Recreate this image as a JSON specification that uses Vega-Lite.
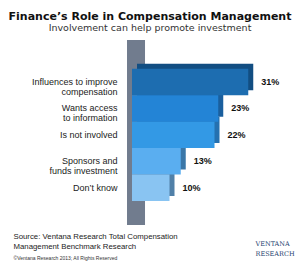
{
  "$schema": "https://vega.github.io/schema/vega-lite/v6.json",
  "width": 150,
  "height": 185,
  "autosize": {"type": "none"},
  "padding": {"left": 132, "top": 40, "right": 18, "bottom": 39},
  "background": "white",
  "title": {
    "text": "Finance’s Role in Compensation Management",
    "subtitle": "Involvement can help promote investment",
    "anchor": "middle",
    "frame": "group",
    "dx": -57,
    "offset": -1,
    "font": "DejaVu Sans",
    "fontSize": 11,
    "fontWeight": "bold",
    "color": "#111111",
    "subtitleFont": "DejaVu Sans",
    "subtitleFontSize": 9.5,
    "subtitleColor": "#333333",
    "subtitlePadding": 1
  },
  "data": {
    "values": [
      {"label": "Influences to improve|compensation", "value": 0.31},
      {"label": "Wants access|to information", "value": 0.23},
      {"label": "Is not involved", "value": 0.22},
      {"label": "Sponsors and|funds investment", "value": 0.13},
      {"label": "Don’t know", "value": 0.10}
    ]
  },
  "layer": [
    {
      "data": {"values": [{}]},
      "mark": {"type": "rule", "color": "#717c8e", "strokeWidth": 18, "clip": false},
      "encoding": {
        "x": {"datum": 0.0107, "type": "quantitative", "scale": {"domain": [0, 0.4], "nice": false}, "axis": null}
      }
    },
    {
      "mark": {"type": "bar", "xOffset": 5, "yOffset": -5, "clip": false},
      "encoding": {
        "y": {"field": "label", "type": "nominal", "sort": null,
              "scale": {"paddingInner": 0, "paddingOuter": 1.06, "align": 0.545},
              "axis": {
                "labelExpr": "split(datum.label, '|')",
                "labelFont": "Liberation Sans", "labelFontSize": 9, "labelColor": "#222222",
                "labelLineHeight": 10, "labelPadding": 15, "ticks": false, "domain": false,
                "title": "©Ventana Research 2013; All Rights Reserved",
                "titleAngle": 0, "titleX": -119, "titleY": 219, "titleAlign": "left",
                "titleBaseline": "alphabetic", "titleFont": "Liberation Sans",
                "titleFontSize": 5, "titleFontWeight": "normal", "titleColor": "#333333"
              }},
        "x": {"field": "value", "type": "quantitative", "axis": null},
        "color": {"field": "label", "type": "nominal", "sort": null, "legend": null,
                  "scale": {"range": ["#124e82", "#1a5f9e", "#2571b0", "#3a77a8", "#5080a8"]}}
      }
    },
    {
      "mark": {"type": "bar", "clip": false},
      "encoding": {
        "y": {"field": "label", "type": "nominal", "sort": null},
        "x": {"field": "value", "type": "quantitative",
              "axis": {
                "orient": "bottom",
                "domain": false, "ticks": false, "labels": false, "grid": false,
                "title": ["Source: Ventana Research Total Compensation", "Management Benchmark Research"],
                "titleX": -119, "titleY": 13, "titleAlign": "left", "titleAnchor": null,
                "titleBaseline": "alphabetic", "titleFont": "Liberation Sans",
                "titleFontSize": 7.8, "titleFontWeight": "normal", "titleColor": "#222222",
                "titleLineHeight": 10
              }},
        "color": {"field": "label", "type": "nominal", "sort": null, "legend": null,
                  "scale": {"range": ["#1d6db0", "#2384d6", "#3399e5", "#5aaef0", "#89c4f2"]}}
      }
    },
    {
      "mark": {"type": "text", "align": "left", "baseline": "middle", "dx": 13,
               "font": "Liberation Sans", "fontSize": 9, "fontWeight": "bold", "color": "#111111", "clip": false},
      "encoding": {
        "y": {"field": "label", "type": "nominal", "sort": null},
        "x": {"field": "value", "type": "quantitative",
              "axis": {
                "orient": "top", "domain": false, "ticks": false, "labels": false, "grid": false,
                "title": ["VENTANA", "RESEARCH"],
                "titleX": 123, "titleY": 205, "titleAlign": "left", "titleAnchor": null,
                "titleBaseline": "alphabetic", "titleFont": "DejaVu Serif",
                "titleFontSize": 6.5, "titleFontWeight": "normal", "titleColor": "#24416f",
                "titleLineHeight": 10
              }},
        "text": {"field": "value", "type": "quantitative", "format": ".0%"}
      }
    }
  ],
  "resolve": {"scale": {"color": "independent"}, "axis": {"x": "independent"}},
  "config": {"view": {"stroke": null}}
}
